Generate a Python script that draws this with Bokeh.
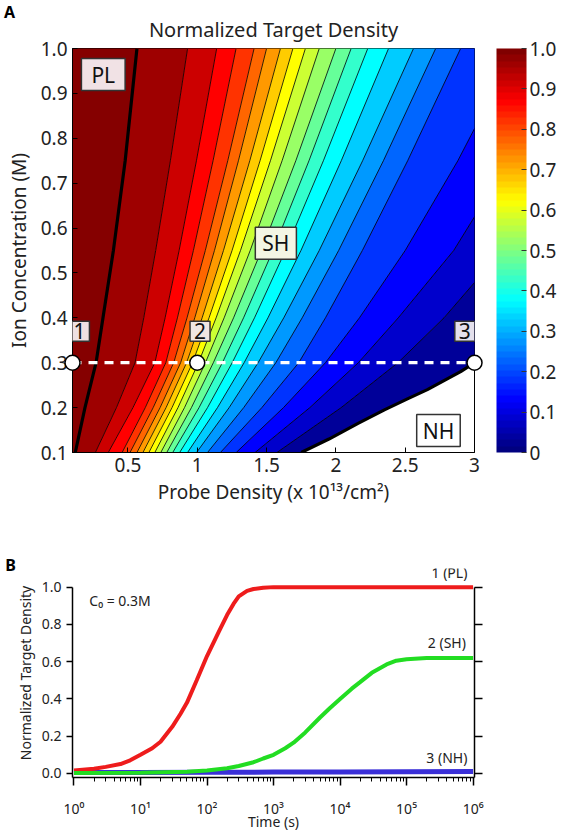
from bokeh.plotting import figure
from bokeh.models import (Range1d, LinearColorMapper, ColorBar, FixedTicker, Label, Title,
                          LinearAxis, PrintfTickFormatter, CustomJSTickFormatter)
from bokeh.layouts import column
from bokeh.embed import file_html
from bokeh.resources import INLINE
from bokeh.core.properties import value

FONT = "Noto Sans"

# ---------------- Panel A : contour line readings (x = probe density at each ion conc.) ----
ion_conc = [0.1, 0.2, 0.3, 0.4, 0.55, 0.75, 1.0]
pl_edge = [0.12, 0.19, 0.27, 0.32, 0.395, 0.48, 0.565]      # thick PL boundary
lev_095 = [0.265, 0.417, 0.551, 0.614, 0.700, 0.806, 0.93]
lev_090 = [0.358, 0.536, 0.694, 0.768, 0.869, 0.994, 1.14]
lev_085 = [0.458, 0.625, 0.773, 0.857, 0.972, 1.114, 1.28]
lev_080 = [0.515, 0.682, 0.830, 0.926, 1.058, 1.220, 1.41]
lev_075 = [0.565, 0.732, 0.880, 0.982, 1.124, 1.297, 1.50]
lev_070 = [0.608, 0.775, 0.923, 1.035, 1.189, 1.379, 1.60]
lev_065 = [0.651, 0.818, 0.966, 1.085, 1.251, 1.453, 1.69]
lev_060 = [0.694, 0.861, 1.009, 1.136, 1.312, 1.528, 1.78]
lev_055 = [0.737, 0.908, 1.059, 1.194, 1.382, 1.612, 1.88]
lev_050 = [0.780, 0.958, 1.116, 1.262, 1.463, 1.711, 2.00]
lev_045 = [0.823, 1.013, 1.181, 1.334, 1.546, 1.806, 2.11]
lev_040 = [0.873, 1.074, 1.252, 1.413, 1.636, 1.910, 2.23]
lev_035 = [0.930, 1.146, 1.338, 1.510, 1.748, 2.039, 2.38]
lev_030 = [0.995, 1.230, 1.439, 1.624, 1.880, 2.193, 2.56]
lev_025 = [1.074, 1.335, 1.567, 1.757, 2.020, 2.343, 2.72]
lev_020 = [1.167, 1.466, 1.732, 1.925, 2.191, 2.518, 2.90]
lev_015 = [1.281, 1.622, 1.925, 2.170, 2.500, 2.880, 3.30]
lev_010 = [1.417, 1.812, 2.162, 2.450, 2.850, 3.250, 3.75]
lev_005 = [1.575, 2.038, 2.448, 2.780, 3.200, 3.700, 4.30]
nh_edge_x = [1.75, 1.95, 2.16, 2.35, 2.52, 2.66, 2.78, 2.90, 3.0]
nh_edge_y = [0.10, 0.13, 0.165, 0.195, 0.22, 0.24, 0.26, 0.28, 0.30]
line_levels = [0.99, 0.95, 0.90, 0.85, 0.80, 0.75, 0.70, 0.65, 0.60, 0.55,
               0.50, 0.45, 0.40, 0.35, 0.30, 0.25, 0.20, 0.15, 0.10, 0.05]

probe_pts = [0.1, 1.0, 3.0]
probe_names = ["1", "2", "3"]
c0 = 0.3

x_ticks = [0.5, 1.0, 1.5, 2.0, 2.5, 3.0]
x_tick_labels = ["0.5", "1", "1.5", "2", "2.5", "3"]
y_ticks = [0.1, 0.2, 0.3, 0.4, 0.5, 0.6, 0.7, 0.8, 0.9, 1.0]
y_tick_labels = ["0.1", "0.2", "0.3", "0.4", "0.5", "0.6", "0.7", "0.8", "0.9", "1.0"]
cb_ticks = [0.0, 0.1, 0.2, 0.3, 0.4, 0.5, 0.6, 0.7, 0.8, 0.9, 1.0]
cb_tick_labels = ["0", "0.1", "0.2", "0.3", "0.4", "0.5", "0.6", "0.7", "0.8", "0.9", "1.0"]

# ---------------- Panel B : kinetics at C0 = 0.3 M ----------------
time_pl = [1, 2, 3, 5, 7, 10, 15, 20, 30, 40, 50, 70, 100, 150, 200, 250, 300, 400, 500,
           700, 1000, 1e4, 1e5, 1e6]
dens_pl = [0.015, 0.025, 0.035, 0.05, 0.07, 0.10, 0.135, 0.17, 0.25, 0.32, 0.38, 0.50, 0.63,
           0.76, 0.85, 0.91, 0.95, 0.98, 0.99, 0.997, 1.0, 1.0, 1.0, 1.0]
time_sh = [1, 10, 50, 100, 200, 300, 500, 700, 1000, 1500, 2000, 3000, 5000, 7000, 1e4,
           1.5e4, 2e4, 3e4, 5e4, 7e4, 1e5, 2e5, 1e6]
dens_sh = [0.002, 0.004, 0.009, 0.015, 0.028, 0.04, 0.06, 0.08, 0.10, 0.135, 0.165, 0.22,
           0.30, 0.35, 0.40, 0.455, 0.49, 0.54, 0.585, 0.605, 0.613, 0.62, 0.62]
time_nh = [1, 10, 100, 1000, 1e4, 1e5, 1e6]
dens_nh = [0.005, 0.005, 0.006, 0.007, 0.008, 0.009, 0.010]
curve_labels = ["1 (PL)", "2 (SH)", "3 (NH)"]
b_y_ticks = [0.0, 0.2, 0.4, 0.6, 0.8, 1.0]
decades = [1, 10, 100, 1e3, 1e4, 1e5, 1e6]
decade_labels = ["10⁰", "10¹", "10²", "10³", "10⁴", "10⁵", "10⁶"]


def jet(v):
    def c(t):
        return int(round(255 * min(max(t, 0.0), 1.0)))
    r = c(1.5 - abs(4 * v - 3)); g = c(1.5 - abs(4 * v - 2)); b = c(1.5 - abs(4 * v - 1))
    return "#%02x%02x%02x" % (r, g, b)


# ================= Panel A =================
pA = figure(width=562, height=513, x_range=Range1d(0.1, 3.0), y_range=Range1d(0.1, 1.0),
            output_backend="svg", toolbar_location=None, title=None,
            min_border_left=72, min_border_right=85, min_border_top=48, min_border_bottom=61)
pA.grid.visible = False
pA.outline_line_color = "black"
pA.outline_line_width = 1

lines = [pl_edge, lev_095, lev_090, lev_085, lev_080, lev_075, lev_070, lev_065, lev_060,
         lev_055, lev_050, lev_045, lev_040, lev_035, lev_030, lev_025, lev_020, lev_015,
         lev_010, lev_005]

xs, ys, cols = [], [], []
xs.append([0.0, 0.0] + pl_edge[::-1]); ys.append([ion_conc[0], ion_conc[-1]] + ion_conc[::-1])
cols.append(jet(0.995))
for i in range(len(lines) - 1):
    xs.append(lines[i] + lines[i + 1][::-1]); ys.append(ion_conc + ion_conc[::-1])
    cols.append(jet((line_levels[i] + line_levels[i + 1]) / 2))
xs.append(lev_005 + [6.0, 6.0] + nh_edge_x[::-1])
ys.append(ion_conc + [ion_conc[-1], nh_edge_y[-1]] + nh_edge_y[::-1])
cols.append(jet(0.025))
pA.patches(xs, ys, fill_color=cols, line_color=cols, line_width=0.6)

pA.multi_line(lines[1:], [ion_conc] * (len(lines) - 1), line_color="black", line_width=0.8)
pA.line(pl_edge, ion_conc, line_color="black", line_width=3.2)
pA.line(nh_edge_x, nh_edge_y, line_color="black", line_width=3.2)

pA.line(probe_pts, [c0] * len(probe_pts), line_color="white", line_width=3.2, line_dash="9 7")
pA.scatter(probe_pts, [c0] * len(probe_pts), marker="circle", size=15, fill_color="white",
           line_color="black", line_width=1.5, level="overlay")


def box(x, y, text, bg, pad):
    pA.add_layout(Label(x=x, y=y, text=text, text_align="center", text_baseline="middle",
                        text_font=FONT, text_font_size="21px", text_color="#111111",
                        background_fill_color=bg, background_fill_alpha=1.0,
                        border_line_color="#333333", border_line_width=1.5, padding=pad))


box(0.322, 0.942, "PL", "#f1e2e5", (10, 2))
box(1.567, 0.566, "SH", "#f3f5e4", (7, 2))
box(2.74, 0.149, "NH", "#ffffff", (6, 2))
box(0.15, 0.37, probe_names[0], "#eee0e2", (4, 2))
box(1.02, 0.37, probe_names[1], "#efe6e2", (4, 2))
box(2.93, 0.37, probe_names[2], "#e4e0ec", (4, 2))

for ax in (pA.xaxis[0], pA.yaxis[0]):
    ax.major_tick_in = 5
    ax.major_tick_out = 0
    ax.minor_tick_line_color = None
    ax.axis_line_color = "black"
    ax.major_label_text_font = FONT
    ax.major_label_text_font_size = "19px"
    ax.major_label_text_color = "#222222"
    ax.axis_label_text_font = FONT
    ax.axis_label_text_font_size = "19px"
    ax.axis_label_text_font_style = "normal"
    ax.axis_label_text_color = "#222222"
pA.xaxis.ticker = FixedTicker(ticks=x_ticks)
pA.xaxis.major_label_overrides = dict(zip(x_ticks, x_tick_labels))
pA.yaxis.ticker = FixedTicker(ticks=y_ticks)
pA.yaxis.major_label_overrides = dict(zip(y_ticks, y_tick_labels))
pA.xaxis.axis_label = "Probe Density (x 10¹³/cm²)"
pA.yaxis.axis_label = "Ion Concentration (M)"
pA.xaxis.major_label_standoff = 5
pA.xaxis.axis_label_standoff = 4
pA.yaxis.major_label_standoff = 5
pA.yaxis.axis_label_standoff = 6

mapper = LinearColorMapper(palette=[jet(i / 63) for i in range(64)], low=0, high=1)
cb = ColorBar(color_mapper=mapper, ticker=FixedTicker(ticks=cb_ticks),
              major_label_overrides=dict(zip(cb_ticks, cb_tick_labels)),
              width=30, height=404, location=(22, 0), margin=0, padding=0,
              label_standoff=3, major_label_text_font=FONT, major_label_text_font_size="19px",
              major_label_text_color="#222222", major_tick_line_color="#333333",
              bar_line_color=None, border_line_color=None, background_fill_alpha=0)
pA.add_layout(cb, "right")

pA.add_layout(Title(text="Normalized Target Density", align="center", text_font=FONT,
                    text_font_size="20px", text_font_style="normal", text_color="#222222",
                    standoff=11), "above")
pA.text(x=[-0.394], y=[1.082], text=["A"], text_align="left", text_baseline="middle",
        text_font=value(FONT), text_font_size="16px", text_font_style="bold",
        text_color="black", level="overlay")

# ================= Panel B =================
pB = figure(width=562, height=320, x_axis_type="log", x_range=Range1d(0.95, 1.05e6),
            y_range=Range1d(-0.022, 1.1), output_backend="svg", toolbar_location=None,
            title=None, min_border_left=70, min_border_right=88, min_border_top=55,
            min_border_bottom=52)
pB.grid.visible = False
pB.outline_line_color = None

pB.line(time_nh, dens_nh, line_color="#3a2fd8", line_width=5)
pB.line(time_pl, dens_pl, line_color="#ee1c1c", line_width=4)
pB.line(time_sh, dens_sh, line_color="#22dd22", line_width=4)

pB.text(x=[8.2e5, 7.8e5, 8.2e5], y=[1.03, 0.65, 0.035], text=curve_labels,
        text_align="right", text_baseline="bottom", text_font=value(FONT),
        text_font_size="14px", text_color="#222222")
pB.text(x=[1.7], y=[0.93], text=["C₀ = 0.3M"], text_align="left", text_baseline="middle",
        text_font=value(FONT), text_font_size="14px", text_color="#222222")
pB.text(x=[0.0927], y=[1.118], text=["B"], text_align="left", text_baseline="middle",
        text_font=value(FONT), text_font_size="16px", text_font_style="bold",
        text_color="black", level="overlay")

ly = pB.yaxis[0]
ly.ticker = FixedTicker(ticks=b_y_ticks)
ly.formatter = PrintfTickFormatter(format="%.1f")
ly.bounds = (-0.022, 1.0)
ly.major_tick_out = 6
ly.major_tick_in = 0
ly.minor_tick_line_color = None
ly.axis_label = "Normalized Target Density"

ry = LinearAxis(ticker=FixedTicker(ticks=b_y_ticks), formatter=CustomJSTickFormatter(code="return ''"),
                bounds=(-0.022, 1.0), major_tick_out=8, major_tick_in=0, minor_tick_line_color=None,
                axis_line_width=1.5, major_tick_line_width=1.5)
pB.add_layout(ry, "right")

bx = pB.xaxis[0]
bx.ticker = FixedTicker(ticks=decades,
                        minor_ticks=[m * d for d in decades[:-1] for m in range(2, 10)])
bx.major_label_overrides = dict(zip(decades, decade_labels))
bx.major_tick_out = 8
bx.major_tick_in = 0
bx.minor_tick_out = 4
bx.minor_tick_in = 0
bx.axis_label = "Time (s)"
bx.major_label_standoff = 13
bx.axis_label_standoff = -9

for ax in (ly, bx):
    ax.axis_line_width = 1.5
    ax.major_tick_line_width = 1.5
    ax.major_label_text_font = FONT
    ax.major_label_text_font_size = "14px"
    ax.major_label_text_color = "#222222"
    ax.axis_label_text_font = FONT
    ax.axis_label_text_font_size = "14px"
    ax.axis_label_text_font_style = "normal"
    ax.axis_label_text_color = "#222222"
ly.axis_label_standoff = 4

layout = column(pA, pB, spacing=0)
open("out.html", "w").write(file_html(layout, INLINE))
